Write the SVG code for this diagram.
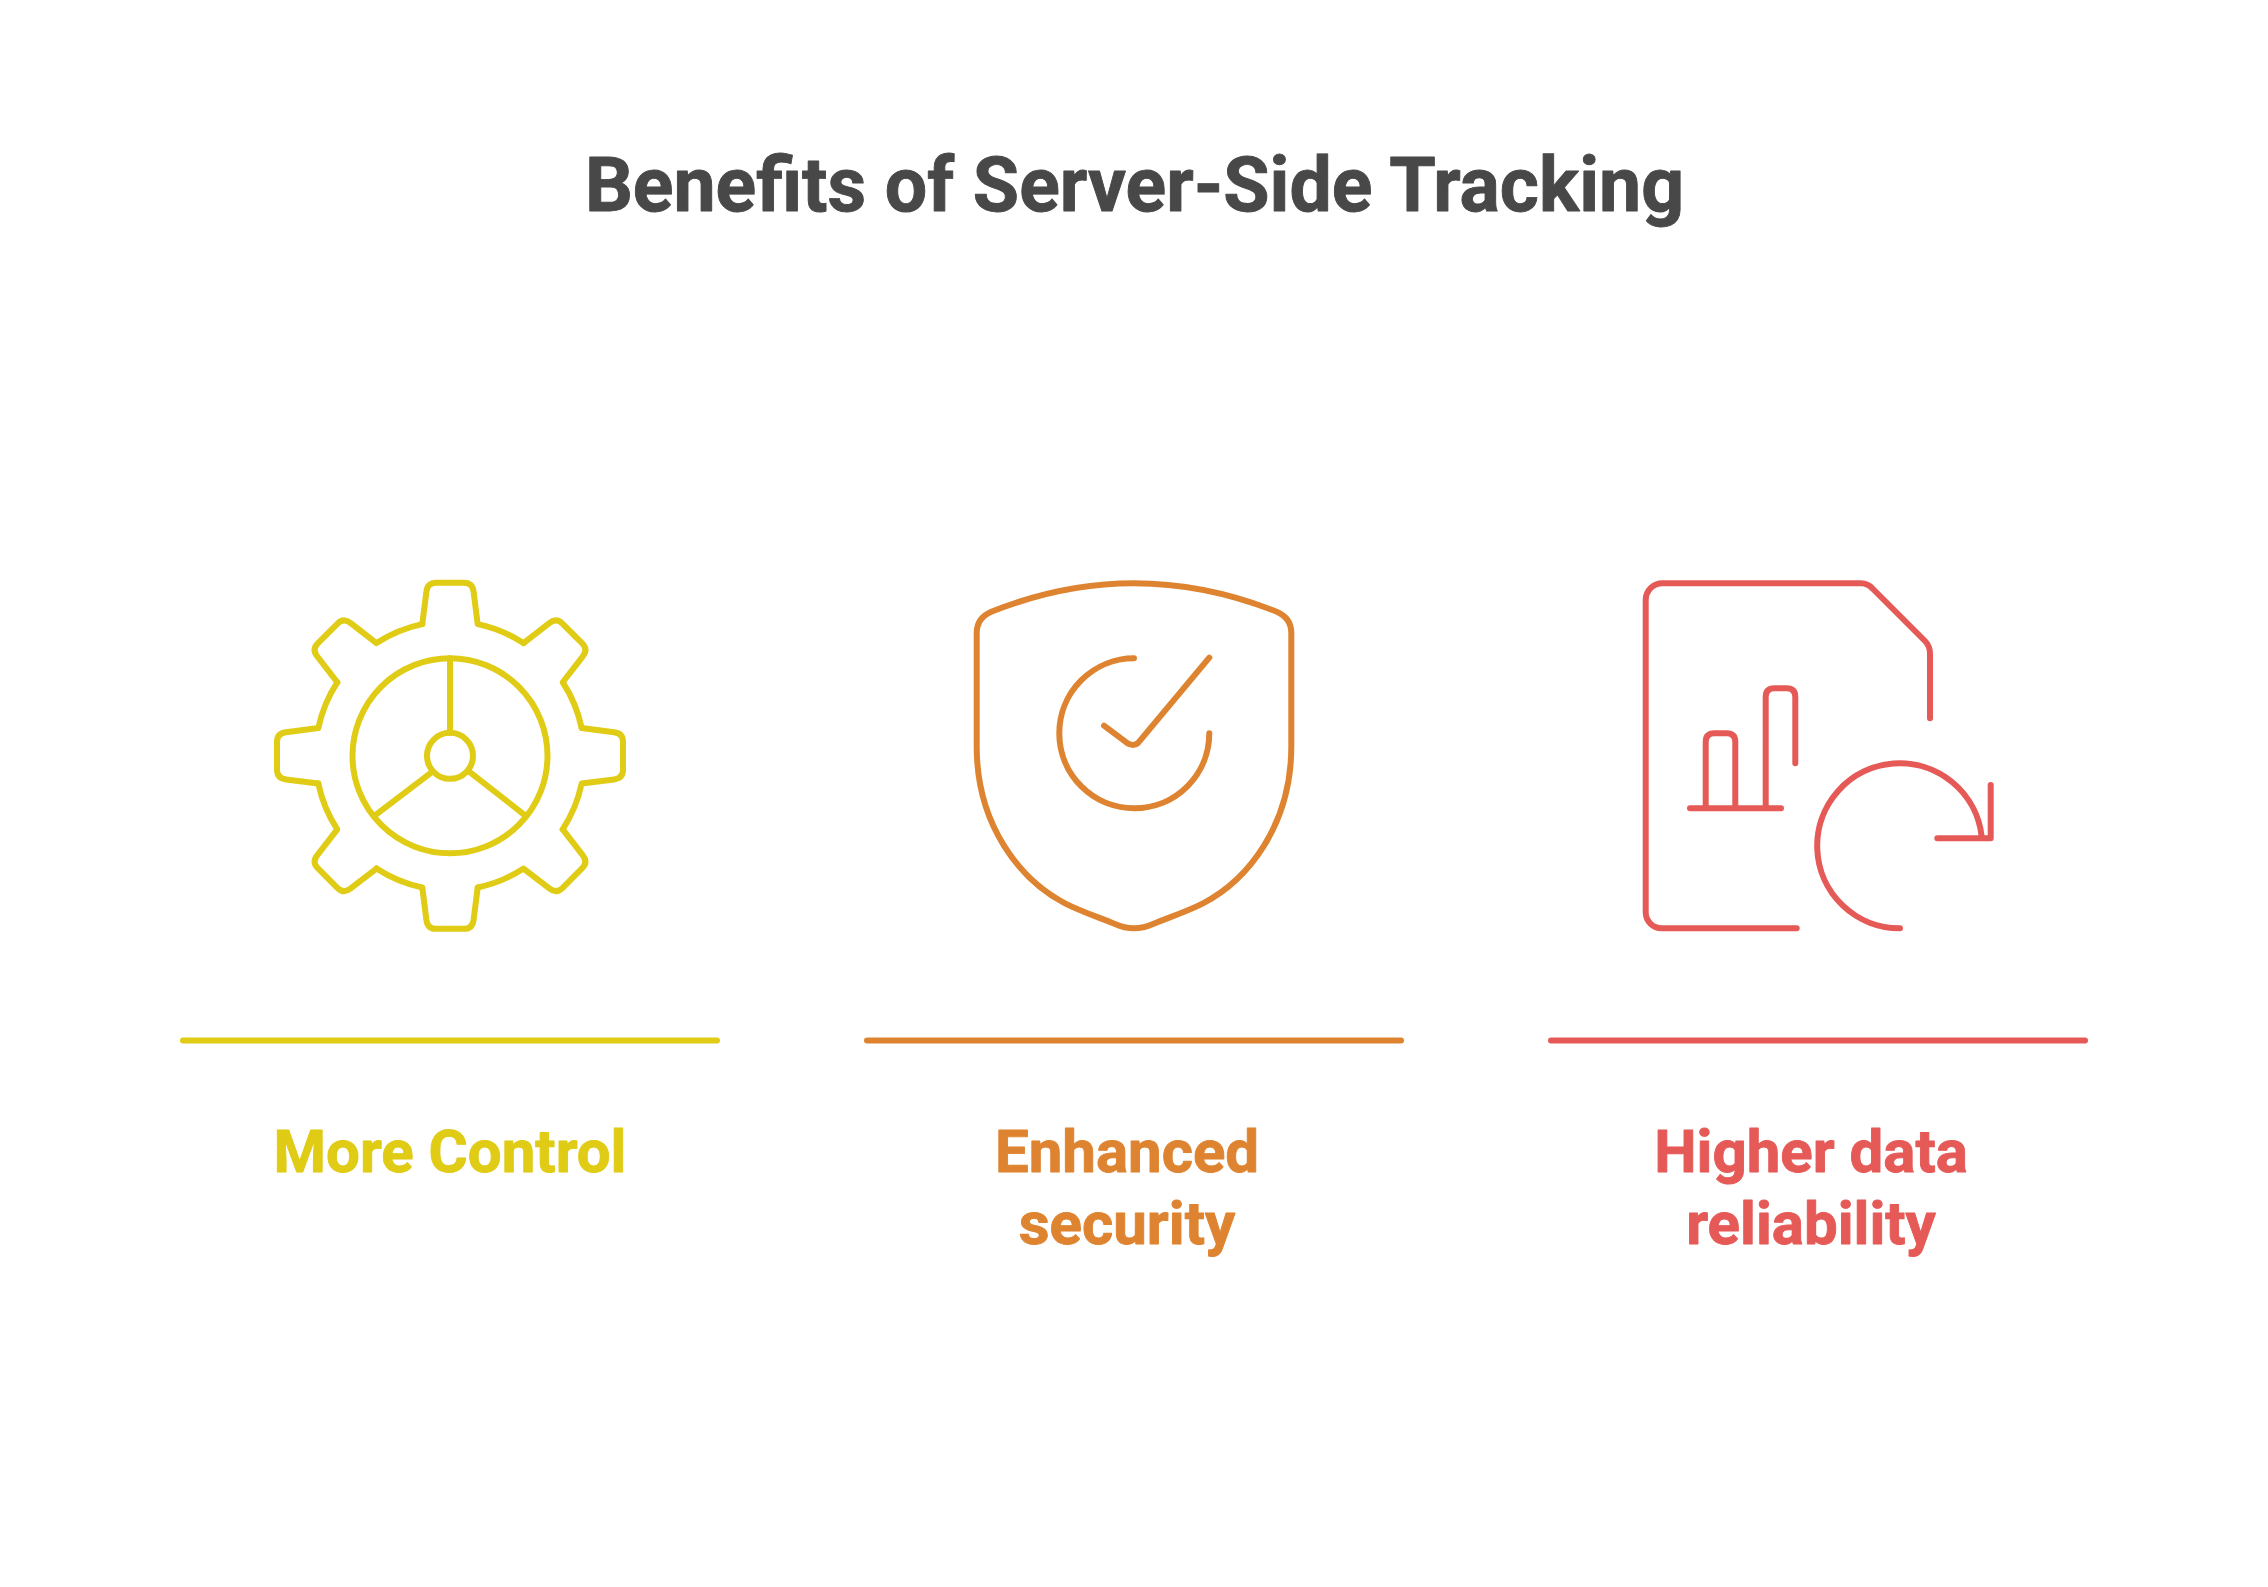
<svg xmlns="http://www.w3.org/2000/svg" width="2268" height="1587" viewBox="0 0 2268 1587">
<style>
.s{fill:none;stroke-width:6;stroke-linecap:round;stroke-linejoin:round}
.t{font-family:Roboto,"Liberation Sans",sans-serif;font-weight:700;text-anchor:middle;stroke-width:.9px;stroke-linejoin:round}
.l{font-size:60px}
.y{stroke:#E0CB15}.o{stroke:#DE8431}.e{stroke:#E55A57}
</style>
<defs>
<path id="seg" d="M-27.7,-131.7 L-23.6,-164 Q-22.6,-173 -14,-173 L14,-173 Q22.6,-173 23.6,-164 L27.7,-131.7 A134.6,134.6 0 0 1 73.5,-112.7"/>
</defs>
<rect width="2268" height="1587" fill="#fff"/>
<g id="title"><text class="t" x="1134.5" y="211" font-size="75.2" fill="#484848" stroke="#484848">Benefits of Server-Side Tracking</text></g>
<g id="control">
<g class="s y" transform="translate(450,755.8)">
<use href="#seg"/><use href="#seg" transform="rotate(45)"/><use href="#seg" transform="rotate(90)"/><use href="#seg" transform="rotate(135)"/><use href="#seg" transform="rotate(180)"/><use href="#seg" transform="rotate(225)"/><use href="#seg" transform="rotate(270)"/><use href="#seg" transform="rotate(315)"/>
<circle r="97.5"/><circle r="23"/>
<path d="M0,-97.5 V-23 M-75,59.5 L-18.5,16.5 M75,59.5 L19.5,16"/>
</g>
<line class="s y" x1="183" y1="1040.5" x2="717" y2="1040.5"/>
<text class="t l y" x="450" y="1172.3" fill="#E0CB15">More Control</text>
</g>
<g id="security">
<path class="s o" d="M1134,583.3 C1184,583.3 1232,594 1276.7,611.7 Q1291.3,618 1291.3,633 V746.7 C1291.3,825 1248,880 1203,903.3 C1188,911 1170,917 1153,924 Q1134,932.5 1115,924 C1098,917 1080,911 1065,903.3 C1020,880 976.7,825 976.7,746.7 V633 Q976.7,618 991.3,611.7 C1036,594 1084,583.3 1134,583.3 Z"/>
<path class="s o" d="M1134,658.3 A75,75 0 1 0 1209.3,733.3 M1104,725.7 L1126.7,742.7 Q1133.3,747.3 1138.3,742.7 L1209.3,657.7"/>
<line class="s o" x1="867" y1="1040.5" x2="1401" y2="1040.5"/>
<text class="t l o" x="1127" y="1172.3" fill="#DE8431">Enhanced</text>
<text class="t l o" x="1127" y="1244.3" fill="#DE8431">security</text>
</g>
<g id="reliability">
<path class="s e" d="M1796.7,928.3 H1662 A16,16 0 0 1 1645.7,912 V600 A16.7,16.7 0 0 1 1662.4,583.3 H1861 Q1868,583.3 1873,589 L1925,641 Q1930,646 1930,654 V718.3"/>
<path class="s e" d="M1690,808.3 H1781 M1705.7,808.3 V742 Q1705.7,733.3 1714.4,733.3 H1726.6 Q1735.3,733.3 1735.3,742 V808.3 M1765.7,808.3 V697 Q1765.7,688.3 1774.4,688.3 H1786.6 Q1795.3,688.3 1795.3,697 V763.3"/>
<path class="s e" d="M1900,928.3 A82.5,82.5 0 1 1 1981.7,836.7 M1937.3,838.3 H1990.7 V785"/>
<line class="s e" x1="1551" y1="1040.5" x2="2085" y2="1040.5"/>
<text class="t l e" x="1811" y="1172.3" fill="#E55A57">Higher data</text>
<text class="t l e" x="1811" y="1244.3" fill="#E55A57">reliability</text>
</g>
</svg>
